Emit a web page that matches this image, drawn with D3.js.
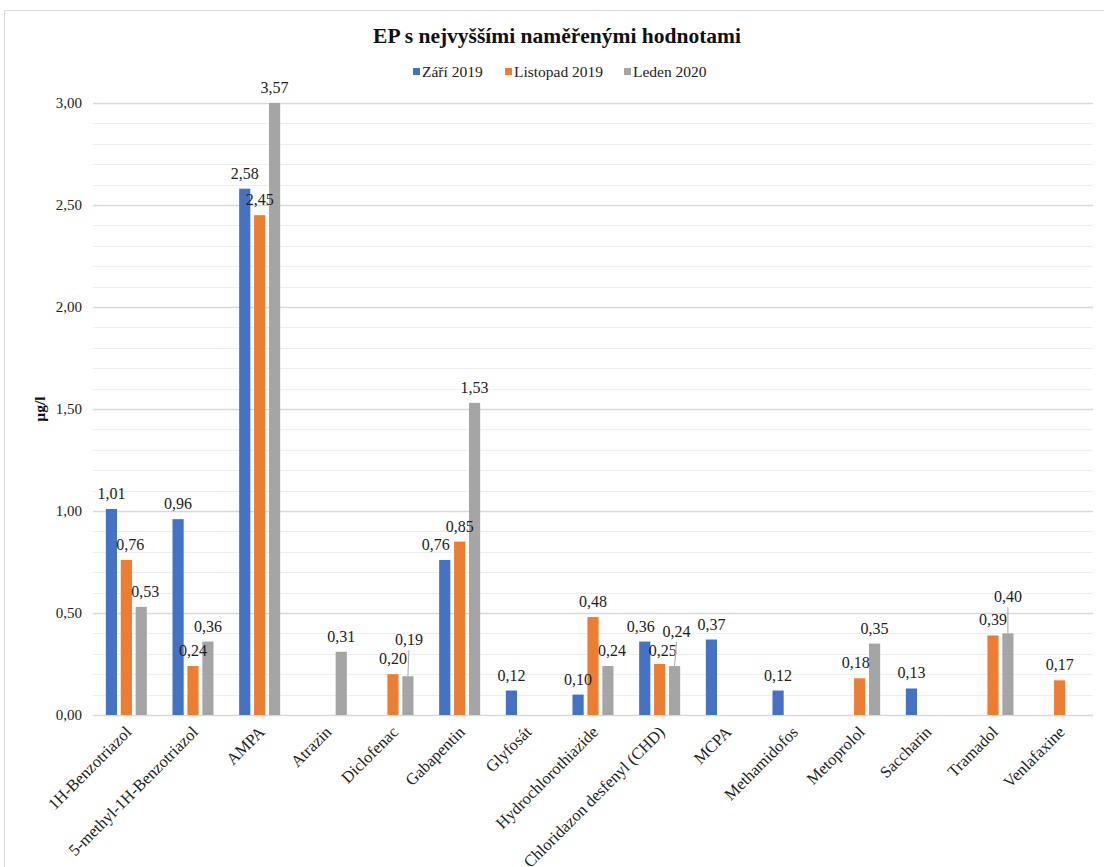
<!DOCTYPE html>
<html>
<head>
<meta charset="utf-8">
<script src="https://cdn.jsdelivr.net/npm/d3@7"></script>
<style>
  html, body { margin: 0; padding: 0; background: #fff; }
  svg { display: block; }
  svg text { font-family: "Liberation Serif", "Times New Roman", serif; }
</style>
</head>
<body>
<svg id="chart" width="1104" height="867"></svg>
<script>
// Substances (x categories)
const categories = [
  "1H-Benzotriazol", "5-methyl-1H-Benzotriazol", "AMPA", "Atrazin", "Diclofenac",
  "Gabapentin", "Glyfosát", "Hydrochlorothiazide", "Chloridazon desfenyl (CHD)",
  "MCPA", "Methamidofos", "Metoprolol", "Saccharin", "Tramadol", "Venlafaxine"
];

// Sampling campaigns
const seriesNames = ["Září 2019", "Listopad 2019", "Leden 2020"];

// Measured concentrations in µg/l (null = not reported)
const zari2019 = [1.01, 0.96, 2.58, null, null, 0.76, 0.12, 0.10, 0.36, 0.37, 0.12, null, 0.13, null, null];
const listopad2019 = [0.76, 0.24, 2.45, null, 0.20, 0.85, null, 0.48, 0.25, null, null, 0.18, null, 0.39, 0.17];
const leden2020 = [0.53, 0.36, 3.57, 0.31, 0.19, 1.53, null, 0.24, 0.24, null, null, 0.35, null, 0.40, null];

// Value axis ticks
const yTicks = [0, 0.5, 1.0, 1.5, 2.0, 2.5, 3.0];

const colors = ["#4472C4", "#ED7D31", "#A5A5A5"];
const seriesValues = [zari2019, listopad2019, leden2020];

// Label nudges [dx, dy, leader line] so crowded labels stay readable
const labelNudge = {
  "Diclofenac|0": [-6, -1, false],
  "Diclofenac|2": [1, -21, true],
  "Gabapentin|0": [-9, 0, false],
  "Chloridazon desfenyl (CHD)|0": [-4, 0, false],
  "Chloridazon desfenyl (CHD)|1": [3, 2, false],
  "Chloridazon desfenyl (CHD)|2": [2, -19, true],
  "Metoprolol|1": [-4, 0, false],
  "Tramadol|2": [0, -21, true],
  "1H-Benzotriazol|1": [4, 0, false],
  "1H-Benzotriazol|2": [4, 0, false],
  "Hydrochlorothiazide|2": [4, 0, false]
};

const SERIF = "Liberation Serif";
const svg = d3.select("#chart");
const W = 1104, H = 867;
const plot = { left: 93, right: 1093, top: 103, bottom: 715 };

// chart frame
svg.append("rect")
  .attr("x", 4.5).attr("y", 10.5)
  .attr("width", W + 10).attr("height", H + 10)
  .attr("fill", "#fff").attr("stroke", "#d9d9d9").attr("stroke-width", 1);

const x0 = d3.scaleBand().domain(categories).range([plot.left, plot.right]).padding(0);
const x1 = d3.scaleBand().domain(d3.range(seriesNames.length)).range([-20.5, 20.5]).paddingInner(0.25);
const y = d3.scaleLinear().domain([0, 3]).range([plot.bottom, plot.top]);

const fmt = v => d3.format(".2f")(v).replace(".", ",");

// minor gridlines
const minor = d3.range(1, 30).map(i => i / 10).filter(v => Math.abs(v * 2 - Math.round(v * 2)) > 1e-6);
svg.append("g").selectAll("line").data(minor).join("line")
  .attr("x1", plot.left).attr("x2", plot.right)
  .attr("y1", d => Math.round(y(d)) + 0.5).attr("y2", d => Math.round(y(d)) + 0.5)
  .attr("stroke", "#efefef").attr("stroke-width", 1);

// major gridlines + axis
const yAxis = d3.axisLeft(y).tickValues(yTicks).tickFormat(fmt).tickSize(-(plot.right - plot.left)).tickPadding(11);
const gy = svg.append("g").attr("transform", `translate(${plot.left},0)`).call(yAxis)
  .attr("font-family", SERIF).attr("font-size", 15);
gy.select(".domain").remove();
gy.selectAll(".tick line").attr("stroke", "#d9d9d9").attr("stroke-width", 1.3);
gy.selectAll(".tick text").attr("fill", "#222");

// bars
const data = [];
categories.forEach((c, i) => {
  seriesValues.forEach((arr, s) => {
    if (arr[i] != null) data.push({ cat: c, s, v: arr[i] });
  });
});

const barX = d => x0(d.cat) + x0.bandwidth() / 2 + x1(d.s);
const barTop = d => y(Math.min(d.v, 3));

svg.append("g").selectAll("rect").data(data).join("rect")
  .attr("x", barX)
  .attr("y", barTop)
  .attr("width", x1.bandwidth())
  .attr("height", d => y(0) - barTop(d))
  .attr("fill", d => colors[d.s]);

// data labels
const lab = svg.append("g").attr("font-size", 16).attr("fill", "#222").attr("text-anchor", "middle");
data.forEach(d => {
  const n = labelNudge[d.cat + "|" + d.s] || [0, 0, false];
  const cx = barX(d) + x1.bandwidth() / 2;
  const by = barTop(d) - 10 + n[1];
  if (n[2]) {
    lab.append("line")
      .attr("x1", cx + n[0]).attr("y1", by + 5)
      .attr("x2", cx).attr("y2", barTop(d))
      .attr("stroke", "#a6a6a6").attr("stroke-width", 1);
  }
  lab.append("text").attr("x", cx + n[0]).attr("y", by).text(fmt(d.v));
});

// category labels
const xl = svg.append("g").attr("font-size", 16.5).attr("fill", "#222");
categories.forEach(c => {
  const cx = x0(c) + x0.bandwidth() / 2 + 2;
  xl.append("text")
    .attr("transform", `translate(${cx},${plot.bottom + 14}) rotate(-45)`)
    .attr("text-anchor", "end")
    .attr("dy", "0.35em")
    .text(c);
});

// title
svg.append("text")
  .attr("x", 557).attr("y", 43)
  .attr("text-anchor", "middle")
  .attr("font-size", 21.5).attr("font-weight", "bold").attr("fill", "#111")
  .text("EP s nejvyššími naměřenými hodnotami");

// y-axis title
svg.append("text")
  .attr("transform", `translate(45,${(plot.top + plot.bottom) / 2}) rotate(-90)`)
  .attr("text-anchor", "middle")
  .attr("font-size", 15.5).attr("font-weight", "bold").attr("fill", "#111")
  .text("µg/l");

// legend
const legendX = [413, 505, 624];
const lg = svg.append("g").attr("font-size", 15.5).attr("fill", "#222");
seriesNames.forEach((name, i) => {
  lg.append("rect").attr("x", legendX[i]).attr("y", 68).attr("width", 7).attr("height", 7).attr("fill", colors[i]);
  lg.append("text").attr("x", legendX[i] + 9).attr("y", 77).text(name);
});
</script>
</body>
</html>
